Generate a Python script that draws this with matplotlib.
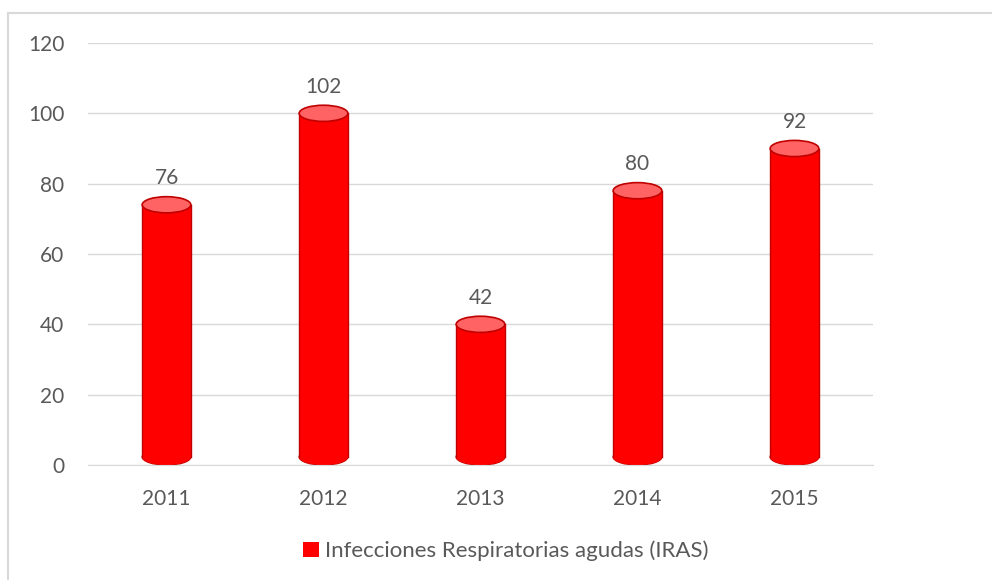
import matplotlib
matplotlib.use("Agg")
from matplotlib import pyplot as plt
from matplotlib.patches import Ellipse, Rectangle
from matplotlib.lines import Line2D

# data
years = ['2011', '2012', '2013', '2014', '2015']
cases = [76, 102, 42, 80, 92]
series_name = 'Infecciones Respiratorias agudas (IRAS)'

plt.rcParams['font.family'] = ['Lato', 'DejaVu Sans']
txt_col = '#595959'
body_col = '#FF0000'
top_col = '#FF6363'
edge_col = '#C00000'

fig = plt.figure(figsize=(9.92, 5.80), dpi=100)
ax = fig.add_axes([88 / 992, 1 - 465 / 580, 785 / 992, 422 / 580])

bw = 0.31       # cylinder width in category units
eh = 4.6        # ellipse height in data units
sink = 2.0      # 3d perspective drop of the top

x = list(range(len(years)))
for xi, v in zip(x, cases):
    top = v - sink
    ax.bar(xi, top - eh / 2, bottom=eh / 2, width=bw, color=body_col,
           linewidth=0, zorder=3)
    ax.add_patch(Ellipse((xi, eh / 2), bw, eh, facecolor=body_col,
                         linewidth=0, zorder=3))
    ax.plot([xi - bw / 2, xi - bw / 2], [eh / 2, top], color=edge_col,
            lw=1, zorder=4)
    ax.plot([xi + bw / 2, xi + bw / 2], [eh / 2, top], color=edge_col,
            lw=1, zorder=4)
    ax.add_patch(Ellipse((xi, eh / 2), bw, eh, facecolor='none',
                         edgecolor=edge_col, lw=1, zorder=2.9))
    ax.add_patch(Ellipse((xi, top), bw, eh, facecolor=top_col,
                         edgecolor=edge_col, lw=1.2, zorder=5))
    ax.annotate(str(v), (xi, top), xytext=(0, 19), textcoords='offset points',
                ha='center', va='center', fontsize=15, color=txt_col)

ax.set_xlim(-0.5, len(years) - 0.5)
ax.set_ylim(0, 120)
ax.set_yticks(range(0, 121, 20))
ax.set_xticks(x)
ax.set_xticklabels(years)
ax.grid(axis='y', color='#D9D9D9', lw=1, zorder=0)
ax.set_axisbelow(True)
for s in ['top', 'right', 'left']:
    ax.spines[s].set_visible(False)
ax.spines['bottom'].set_color('#D9D9D9')
ax.spines['bottom'].set_zorder(6)
ax.tick_params(axis='both', length=0, labelsize=15, labelcolor=txt_col)
ax.tick_params(axis='y', pad=17)
ax.tick_params(axis='x', pad=17)

handle = Rectangle((0, 0), 1, 1, facecolor=body_col)
fig.legend([handle], [series_name], loc='center', bbox_to_anchor=(0.51, 1 - 551 / 580),
           frameon=False, fontsize=16, labelcolor=txt_col, handlelength=0.7,
           handleheight=0.7, handletextpad=0.3)

# chart border (top and left visible)
fig.add_artist(Line2D([8 / 992, 8 / 992], [0, 1 - 13 / 580], color='#D9D9D9', lw=1.5))
fig.add_artist(Line2D([8 / 992, 1], [1 - 13 / 580, 1 - 13 / 580], color='#D9D9D9', lw=1.5))

fig.savefig('out.png', dpi=100)
